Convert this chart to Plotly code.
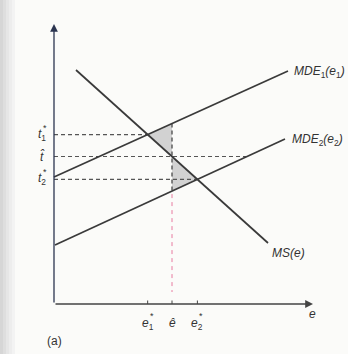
import numpy as np
import plotly.graph_objects as go

# Line endpoints (data units: x = e, y = t)
ms_x = [2.2, 21.4]
ms_y = [23.4, 6.1]
mde1_x = [0.0, 23.4]
mde1_y = [12.7, 23.3]
mde2_x = [0.1, 23.1]
mde2_y = [5.9, 16.5]
e_hat = 11.8

x_axis_end = 25.9
y_axis_end = 28.0

def line_coef(xs, ys):
    m = (ys[1] - ys[0]) / (xs[1] - xs[0])
    return m, ys[0] - m * xs[0]

m_ms, b_ms = line_coef(ms_x, ms_y)
m_1, b_1 = line_coef(mde1_x, mde1_y)
m_2, b_2 = line_coef(mde2_x, mde2_y)

def inter(ma, ba, mb, bb):
    x = (bb - ba) / (ma - mb)
    return x, ma * x + ba

e1, t1 = inter(m_ms, b_ms, m_1, b_1)
e2, t2 = inter(m_ms, b_ms, m_2, b_2)
t_hat = m_ms * e_hat + b_ms
top_hat = m_1 * e_hat + b_1
bot_hat = m_2 * e_hat + b_2
t_hat_end = (t_hat - b_2) / m_2

LINE = "#3a3a3a"
DASH = "#555555"
fig = go.Figure()

# shaded triangles
fig.add_trace(go.Scatter(x=[e1, e_hat, e_hat, e1], y=[t1, top_hat, t_hat, t1], fill="toself",
                         fillcolor="#d2d2d2", line=dict(width=0), mode="lines", hoverinfo="skip"))
fig.add_trace(go.Scatter(x=[e_hat, e_hat, e2, e_hat], y=[t_hat, bot_hat, t2, t_hat], fill="toself",
                         fillcolor="#d2d2d2", line=dict(width=0), mode="lines", hoverinfo="skip"))

# dashed guides
dash = "4px,3px"
fig.add_trace(go.Scatter(x=[0, e1], y=[t1, t1], mode="lines", line=dict(color=DASH, width=1.2, dash=dash)))
fig.add_trace(go.Scatter(x=[0, t_hat_end], y=[t_hat, t_hat], mode="lines", line=dict(color=DASH, width=1.2, dash=dash)))
fig.add_trace(go.Scatter(x=[0, e2], y=[t2, t2], mode="lines", line=dict(color=DASH, width=1.2, dash=dash)))
fig.add_trace(go.Scatter(x=[e_hat, e_hat], y=[top_hat, bot_hat], mode="lines", line=dict(color=DASH, width=1.4, dash=dash)))
fig.add_trace(go.Scatter(x=[e_hat, e_hat], y=[bot_hat - 0.3, 1.2], mode="lines", line=dict(color="#e87aa0", width=1, dash="4px,4px")))

# main lines
for xs, ys in [(ms_x, ms_y), (mde1_x, mde1_y), (mde2_x, mde2_y)]:
    fig.add_trace(go.Scatter(x=xs, y=ys, mode="lines", line=dict(color=LINE, width=1.7)))

# ticks on x axis
for xv in [e1, e_hat, e2]:
    fig.add_trace(go.Scatter(x=[xv, xv], y=[0, 0.35], mode="lines", line=dict(color="#444", width=1)))

FONT = "Liberation Sans"
ann = []
# axes with arrows
ann.append(dict(x=0, y=y_axis_end, ax=0, ay=0, xref="x", yref="y", axref="x", ayref="y", text="",
                showarrow=True, arrowhead=2, arrowsize=1.2, arrowwidth=1.3, arrowcolor="#2b3550"))
ann.append(dict(x=x_axis_end, y=0, ax=0, ay=0, xref="x", yref="y", axref="x", ayref="y", text="",
                showarrow=True, arrowhead=2, arrowsize=1.2, arrowwidth=1.3, arrowcolor="#444"))

def lab(x, y, text, size=12, xanchor="center"):
    ann.append(dict(x=x, y=y, xref="x", yref="y", text=text, showarrow=False, xanchor=xanchor,
                    font=dict(family=FONT, size=size, color="#333")))

lab(23.8, 23.2, "<i>MDE</i><sub>1</sub><i>(e</i><sub>1</sub><i>)</i>", xanchor="left")
lab(23.6, 16.4, "<i>MDE</i><sub>2</sub><i>(e</i><sub>2</sub><i>)</i>", xanchor="left")
lab(21.6, 5.1, "<i>MS(e)</i>", xanchor="left")
lab(e1, -2.0, "<i>e</i><sub>1</sub>")
lab(e1 + 0.4, -1.2, "*", size=9)
lab(e_hat, -1.9, "<i>ê</i>")
lab(e2, -2.0, "<i>e</i><sub>2</sub>")
lab(e2 + 0.4, -1.2, "*", size=9)
lab(25.8, -1.0, "<i>e</i>")
lab(-1.2, t1, "<i>t</i><sub>1</sub>")
lab(-0.9, t1 + 0.7, "*", size=9)
lab(-1.2, t_hat, "<i>t̂</i>")
lab(-1.2, t2, "<i>t</i><sub>2</sub>")
lab(-0.9, t2 + 0.7, "*", size=9)
lab(0.0, -3.7, "(a)")

# scanned-page grey left edge
greys = ["#d6d6d6", "#dedede", "#e6e6e6", "#ededed", "#f3f3f3"]
shapes = []
for i, g in enumerate(greys):
    x0px = i * 3
    shapes.append(dict(type="rect", xref="paper", yref="paper", x0=x0px / 348, x1=(x0px + 3) / 348,
                       y0=0, y1=1, line=dict(width=0), fillcolor=g, layer="below"))

fig.update_layout(
    width=348, height=354,
    margin=dict(l=0, r=0, t=0, b=0),
    paper_bgcolor="#fbfbf9", plot_bgcolor="rgba(0,0,0,0)",
    showlegend=False,
    xaxis=dict(range=[-5.4, 29.4], visible=False, fixedrange=True),
    yaxis=dict(range=[-5.0, 30.4], visible=False, fixedrange=True),
    annotations=ann,
    shapes=shapes,
)
fig.write_html("out.html", config={"displayModeBar": False},
               post_script="document.body.style.margin='0px';")
